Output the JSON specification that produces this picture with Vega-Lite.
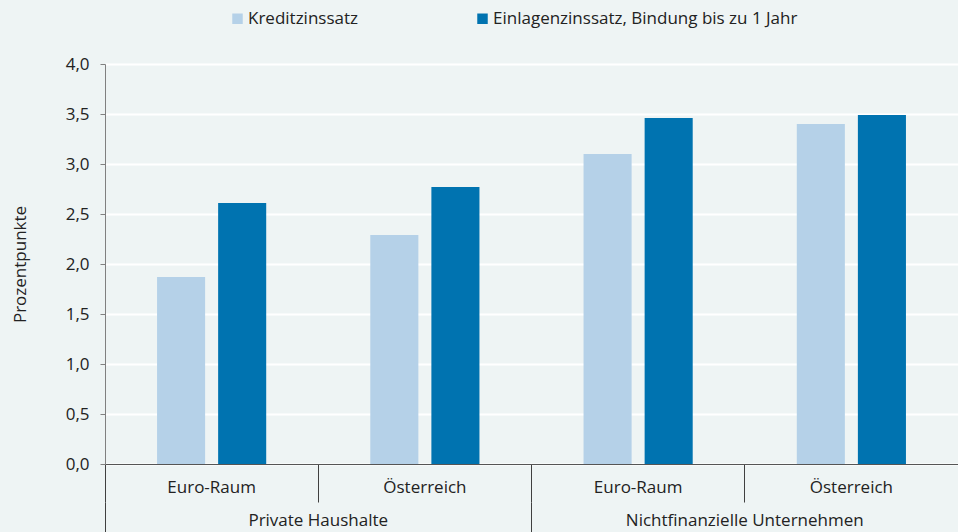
{
  "$schema": "https://vega.github.io/schema/vega-lite/v6.json",
  "width": 853,
  "height": 400,
  "autosize": {"type": "none"},
  "padding": {"left": 105, "top": 64, "right": 0, "bottom": 68},
  "background": "#eef4f4",
  "config": {"view": {"stroke": null}, "font": "Open Sans"},
  "data": {
    "values": [
      {"kategorie": "Private Haushalte|Euro-Raum", "gruppe": "Private Haushalte", "serie": "Kreditzinssatz", "wert": 1.87},
      {"kategorie": "Private Haushalte|Euro-Raum", "gruppe": "Private Haushalte", "serie": "Einlagenzinssatz, Bindung bis zu 1 Jahr", "wert": 2.61},
      {"kategorie": "Private Haushalte|Österreich", "gruppe": "Private Haushalte", "serie": "Kreditzinssatz", "wert": 2.29},
      {"kategorie": "Private Haushalte|Österreich", "gruppe": "Private Haushalte", "serie": "Einlagenzinssatz, Bindung bis zu 1 Jahr", "wert": 2.77},
      {"kategorie": "Nichtfinanzielle Unternehmen|Euro-Raum", "gruppe": "Nichtfinanzielle Unternehmen", "serie": "Kreditzinssatz", "wert": 3.10},
      {"kategorie": "Nichtfinanzielle Unternehmen|Euro-Raum", "gruppe": "Nichtfinanzielle Unternehmen", "serie": "Einlagenzinssatz, Bindung bis zu 1 Jahr", "wert": 3.46},
      {"kategorie": "Nichtfinanzielle Unternehmen|Österreich", "gruppe": "Nichtfinanzielle Unternehmen", "serie": "Kreditzinssatz", "wert": 3.40},
      {"kategorie": "Nichtfinanzielle Unternehmen|Österreich", "gruppe": "Nichtfinanzielle Unternehmen", "serie": "Einlagenzinssatz, Bindung bis zu 1 Jahr", "wert": 3.49}
    ]
  },
  "layer": [
    {
      "mark": {"type": "bar"},
      "encoding": {
        "x": {
          "field": "kategorie", "type": "nominal", "sort": null,
          "scale": {"paddingInner": 0, "paddingOuter": 0},
          "axis": {
            "title": null, "orient": "bottom",
            "labelExpr": "split(datum.value, '|')[1]",
            "labelAngle": 0, "labelFontSize": 17, "labelColor": "#222222", "labelPadding": -23, "labelLimit": 0,
            "bandPosition": 0, "ticks": true, "tickSize": 38, "tickColor": "#404040", "tickWidth": 1,
            "domain": true, "domainColor": "#555555", "domainWidth": 1.2, "grid": false
          }
        },
        "xOffset": {
          "field": "serie", "type": "nominal",
          "sort": ["Kreditzinssatz", "Einlagenzinssatz, Bindung bis zu 1 Jahr"],
          "scale": {"paddingInner": 0.213, "paddingOuter": 0.852}
        },
        "y": {
          "field": "wert", "type": "quantitative",
          "scale": {"domain": [0, 4], "nice": false},
          "axis": {
            "title": "Prozentpunkte", "titleFontSize": 17, "titleFontWeight": "normal", "titleColor": "#222222", "titlePadding": 36,
            "values": [0, 0.5, 1, 1.5, 2, 2.5, 3, 3.5, 4],
            "labelExpr": "replace(format(datum.value, '.1f'), '.', ',')",
            "labelFontSize": 17, "labelColor": "#222222", "labelPadding": 11,
            "tickSize": 5, "tickColor": "#808080", "domainColor": "#808080",
            "grid": true, "gridColor": "#ffffff", "gridWidth": 2
          }
        },
        "color": {
          "field": "serie", "type": "nominal",
          "sort": ["Kreditzinssatz", "Einlagenzinssatz, Bindung bis zu 1 Jahr"],
          "scale": {"range": ["#b5d1e8", "#0073b0"]},
          "legend": {
            "title": null, "orient": "none", "legendX": 124, "legendY": -54,
            "direction": "horizontal", "symbolType": "square", "symbolSize": 110,
            "symbolStrokeWidth": 0, "labelFontSize": 17, "labelColor": "#222222", "labelLimit": 0,
            "labelOffset": 2, "columnPadding": 115
          }
        }
      }
    },
    {
      "mark": {"type": "bar", "opacity": 0},
      "encoding": {
        "x": {
          "field": "gruppe", "type": "nominal", "sort": null,
          "scale": {"paddingInner": 0, "paddingOuter": 0},
          "axis": {
            "title": null, "orient": "bottom", "offset": 38,
            "labelAngle": 0, "labelFontSize": 17, "labelColor": "#222222", "labelPadding": -20, "labelLimit": 0,
            "bandPosition": 0, "ticks": true, "tickSize": 30, "tickColor": "#404040", "tickWidth": 1,
            "domain": false, "grid": false
          }
        },
        "y": {"datum": 0, "type": "quantitative"}
      }
    }
  ],
  "resolve": {"scale": {"x": "independent"}}
}
